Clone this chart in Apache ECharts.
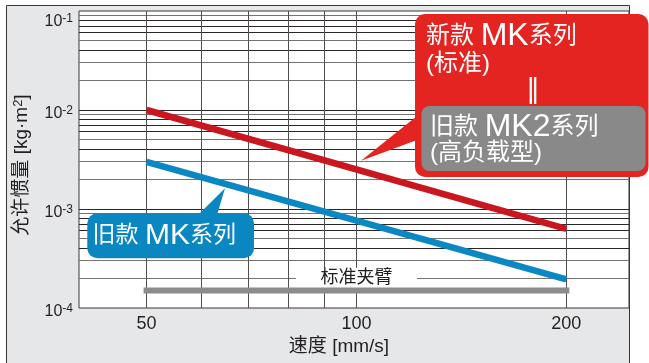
<!DOCTYPE html>
<html>
<head>
<meta charset="utf-8">
<script src="https://cdn.jsdelivr.net/npm/echarts@6/dist/echarts.min.js"></script>
<style>
html,body{margin:0;padding:0;background:#fff;}
#chart{width:649px;height:363px;}
</style>
</head>
<body>
<div id="chart"></div>
<script>
// ---- data ----
const speeds = [50, 200];
const newMK = [1.0e-2, 6.3e-4];
const oldMK = [3.0e-3, 1.95e-4];
const standardClamp = [1.5e-4, 1.5e-4];
const standardClampLabel = '标准夹臂';
const xRange = [40, 246];
const yRange = [1e-4, 1e-1];
const xTickLabels = [50, 100, 200];
const yTickLabels = [1e-4, 1e-3, 1e-2, 1e-1];
const xGridValues = [50, 60, 70, 80, 90, 100, 200];
const yGridValues = [
  2e-4, 3e-4, 4e-4, 5e-4, 6e-4, 7e-4, 8e-4, 9e-4, 1e-3,
  2e-3, 3e-3, 4e-3, 5e-3, 6e-3, 7e-3, 8e-3, 9e-3, 1e-2,
  2e-2, 3e-2, 4e-2, 5e-2, 6e-2, 7e-2, 8e-2, 9e-2
];
const xTitle = '速度 [mm/s]';
const yTitle = '允许惯量 [kg·m';

const FONT = "'Liberation Sans', 'Noto Sans CJK SC'";
const TXT = '#231f20';

function mant(v){ return Math.round(v / Math.pow(10, Math.floor(Math.log10(v) + 1e-9))); }

const chart = echarts.init(document.getElementById('chart'));
chart.setOption({
  animation: false,
  backgroundColor: '#ffffff',
  textStyle: {fontFamily: FONT, color: TXT},
  grid: {
    left: 79, right: 20, top: 6, bottom: 55,
    show: true, backgroundColor: '#ffffff', borderColor: '#3a3637', borderWidth: 1
  },
  xAxis: {
    type: 'log', logBase: 10, min: xRange[0], max: xRange[1],
    axisLine: {show: false}, axisTick: {show: false}, splitLine: {show: false},
    minorTick: {show: false}, minorSplitLine: {show: false},
    axisLabel: {
      customValues: xTickLabels, margin: 7,
      fontSize: 18, color: TXT, fontFamily: FONT,
      formatter: v => String(Math.round(v))
    }
  },
  yAxis: {
    type: 'log', logBase: 10, min: yRange[0], max: yRange[1],
    axisLine: {show: false}, axisTick: {show: false}, splitLine: {show: false},
    minorTick: {show: false}, minorSplitLine: {show: false},
    axisLabel: {
      customValues: yTickLabels, margin: 6, verticalAlign: 'top',
      formatter: v => {
        const e = Math.round(Math.log10(v));
        return e === -1 ? '{B|10}{S|' + e + '}' : '{b|10}{s|' + e + '}';
      },
      rich: {
        b: {fontSize: 16, lineHeight: 8, color: TXT, fontFamily: FONT},
        s: {fontSize: 12, lineHeight: 8, color: TXT, fontFamily: FONT, padding: [0, 0, 6, 0]},
        B: {fontSize: 16, lineHeight: 8, color: TXT, fontFamily: FONT, padding: [14, 0, 0, 0]},
        S: {fontSize: 12, lineHeight: 8, color: TXT, fontFamily: FONT, padding: [8, 0, 0, 0]}
      }
    }
  },
  series: [
    {
      name: 'label', type: 'scatter', z: 3, silent: true, data: [],
      markPoint: {
        z: 3, silent: true, symbol: 'rect', symbolSize: [121, 21],
        itemStyle: {color: '#ffffff'},
        label: {show: true, position: 'inside', formatter: standardClampLabel, fontSize: 18, color: TXT, fontFamily: FONT},
        data: [{coord: [100, 2e-4]}]
      }
    },
    {
      name: 'clamp', type: 'line', z: 5, symbol: 'none',
      lineStyle: {color: '#8c8c8c', width: 6, cap: 'square'},
      data: speeds.map((s, i) => [s, standardClamp[i]])
    },
    {
      name: 'new MK', type: 'line', z: 6, symbol: 'none',
      lineStyle: {color: '#c9161f', width: 6.5},
      data: speeds.map((s, i) => [s, newMK[i]])
    },
    {
      name: 'old MK', type: 'line', z: 6, symbol: 'none',
      lineStyle: {color: '#0b88c4', width: 6.5},
      data: speeds.map((s, i) => [s, oldMK[i]])
    }
  ]
});

// grid lines positioned through the chart's own axes
const crisp = p => Math.round(p - 0.5) + 0.5;
const gridGraphics = [];
yGridValues.forEach(v => {
  const m = mant(v);
  const dark = (m === 1 || m === 4 || m === 6 || m === 7 || m === 8);
  const a = chart.convertToPixel({gridIndex: 0}, [xRange[0], v]);
  const b = chart.convertToPixel({gridIndex: 0}, [xRange[1], v]);
  const y = crisp(a[1]);
  gridGraphics.push({type: 'line', z: 1, silent: true,
    shape: {x1: a[0], y1: y, x2: b[0], y2: y},
    style: {stroke: dark ? '#2a2627' : '#767272', lineWidth: 1}});
});
xGridValues.forEach(v => {
  const a = chart.convertToPixel({gridIndex: 0}, [v, yRange[0]]);
  const b = chart.convertToPixel({gridIndex: 0}, [v, yRange[1]]);
  const x = crisp(a[0]);
  gridGraphics.push({type: 'line', z: 1, silent: true,
    shape: {x1: x, y1: a[1], x2: x, y2: b[1]},
    style: {stroke: '#524e4f', lineWidth: 1}});
});

const decoGraphics = [
  {type: 'rect', z: -10, shape: {x: 6.5, y: 5.5, width: 623, height: 380},
   style: {fill: '#e6e7e8', stroke: '#3a3637', lineWidth: 1}},
  {type: 'text', z: 10, x: 339, y: 347,
   style: {text: xTitle, font: "19px " + FONT, fill: TXT, textAlign: 'center', textVerticalAlign: 'middle'}},
  {type: 'text', z: 10, x: 22, y: 165, rotation: Math.PI / 2,
   style: {text: '{a|' + yTitle + '}{s|2}{a|]}', fill: TXT, textAlign: 'center', textVerticalAlign: 'middle',
     rich: {a: {fontSize: 19, fontFamily: FONT, color: TXT}, s: {fontSize: 13, fontFamily: FONT, color: TXT, padding: [0, 0, 8, 0]}}}},
  // red callout
  {type: 'polygon', z: 50, shape: {points: [[417, 116], [361, 160.7], [417, 140]]}, style: {fill: '#e42421'}},
  {type: 'rect', z: 50, shape: {x: 415, y: 14, width: 233.5, height: 163, r: 10}, style: {fill: '#e42421'}},
  {type: 'rect', z: 51, shape: {x: 421.5, y: 106, width: 224, height: 65, r: 8}, style: {fill: '#898989'}},
  {type: 'text', z: 52, x: 426, y: 36,
   style: {text: '{c|新款 }{m|MK}{c|系列}', fill: '#fff', textVerticalAlign: 'middle',
     rich: {c: {fontSize: 24, fontFamily: FONT, color: '#fff'}, m: {fontSize: 32, fontFamily: FONT, color: '#fff'}}}},
  {type: 'text', z: 52, x: 426, y: 64,
   style: {text: '(标准)', font: "24px " + FONT, fill: '#fff', textVerticalAlign: 'middle'}},
  {type: 'text', z: 52, x: 533, y: 90,
   style: {text: '‖', font: "27px 'DejaVu Sans'", fill: '#fff', textAlign: 'center', textVerticalAlign: 'middle'}},
  {type: 'text', z: 52, x: 430, y: 127,
   style: {text: '{c|旧款 }{m|MK2}{c|系列}', fill: '#fff', textVerticalAlign: 'middle',
     rich: {c: {fontSize: 24, fontFamily: FONT, color: '#fff'}, m: {fontSize: 32, fontFamily: FONT, color: '#fff'}}}},
  {type: 'text', z: 52, x: 430, y: 153,
   style: {text: '(高负载型)', font: "24px " + FONT, fill: '#fff', textVerticalAlign: 'middle'}},
  // blue callout
  {type: 'polygon', z: 50, shape: {points: [[198, 215], [225, 188.3], [217, 215]]}, style: {fill: '#0a87c0'}},
  {type: 'rect', z: 50, shape: {x: 87.3, y: 213.3, width: 166.7, height: 45, r: 10}, style: {fill: '#0a87c0'}},
  {type: 'text', z: 52, x: 92.5, y: 236,
   style: {text: '{c|旧款 }{m|MK}{c|系列}', fill: '#fff', textVerticalAlign: 'middle',
     rich: {c: {fontSize: 23, fontFamily: FONT, color: '#fff'}, m: {fontSize: 30, fontFamily: FONT, color: '#fff'}}}}
];

chart.setOption({graphic: decoGraphics.concat(gridGraphics)});
</script>
</body>
</html>
